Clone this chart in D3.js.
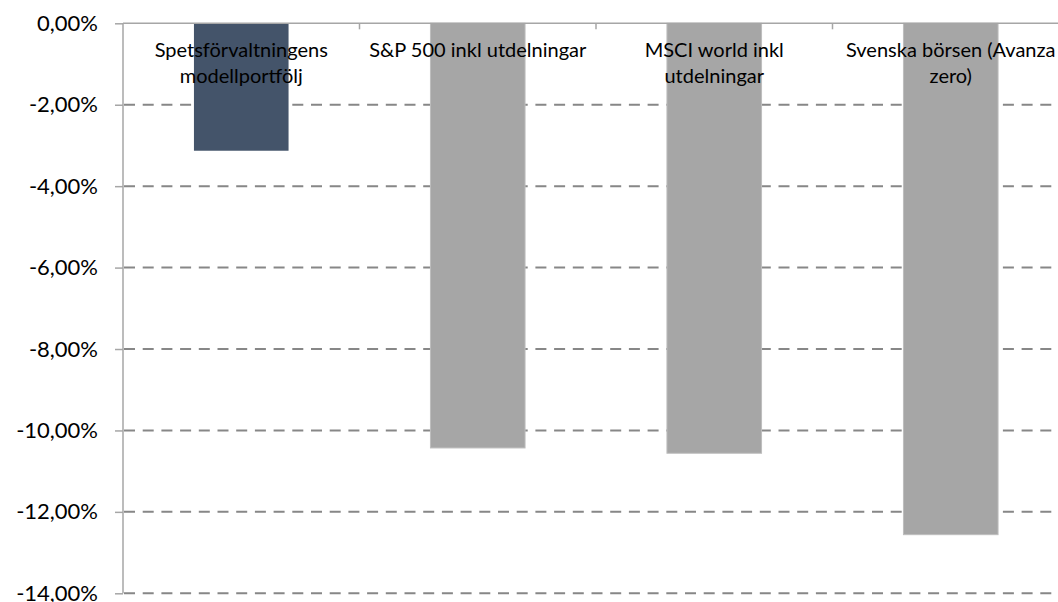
<!DOCTYPE html>
<html>
<head>
<meta charset="utf-8">
<script src="https://cdn.jsdelivr.net/npm/d3@7"></script>
<style>
  body { margin: 0; background: #fff; }
  svg { font-family: Lato, "Liberation Sans", sans-serif; }
</style>
</head>
<body>
<svg></svg>
<script>
// data
let categories = [
  ["Spetsförvaltningens", "modellportfölj"],
  ["S&P 500 inkl utdelningar"],
  ["MSCI world inkl", "utdelningar"],
  ["Svenska börsen (Avanza", "zero)"],
];
let values = [-0.0313, -0.1043, -0.1056, -0.1256];
let barColors = ["#44546a", "#a6a6a6", "#a6a6a6", "#a6a6a6"];
let yTicks = [0, -0.02, -0.04, -0.06, -0.08, -0.1, -0.12, -0.14];

let width = 1058;
let height = 602;
let margin = { top: 23.3, left: 123, bottom: 602 - 593.3 };
let plotRight = 1069; // plot runs past the right edge

let svg = d3.select("svg").attr("width", width).attr("height", height);

let x = d3
  .scaleBand()
  .domain(d3.range(categories.length))
  .range([margin.left, plotRight])
  .paddingInner(0.6)
  .paddingOuter(0.3);

let xEdges = d3
  .scaleLinear()
  .domain([0, categories.length])
  .range([margin.left, plotRight]);

let y = d3
  .scaleLinear()
  .domain([-0.14, 0])
  .range([height - margin.bottom, margin.top]);

let fmt = (v) => (v * 100).toFixed(2).replace(".", ",") + "%";

// dashed gridlines
svg
  .append("g")
  .selectAll("line")
  .data(yTicks.filter((d) => d != 0))
  .join("line")
  .attr("x1", margin.left)
  .attr("x2", plotRight)
  .attr("y1", (d) => y(d))
  .attr("y2", (d) => y(d))
  .style("stroke", "#878787")
  .style("stroke-width", 2)
  .style("stroke-dasharray", "11,7.7")
  .style("stroke-dashoffset", -1);

// bars
svg
  .append("g")
  .selectAll("rect")
  .data(values)
  .join("rect")
  .attr("x", (d, i) => x(i))
  .attr("width", x.bandwidth())
  .attr("y", y(0))
  .attr("height", (d) => y(d) - y(0))
  .style("fill", (d, i) => barColors[i])
  .style("stroke", (d, i) => (i == 0 ? "none" : "#bdbdbd"))
  .style("stroke-width", 1);

// y axis
let yAxis = d3
  .axisLeft(y)
  .tickValues(yTicks)
  .tickFormat(fmt)
  .tickSize(8)
  .tickPadding(17);

let gy = svg
  .append("g")
  .attr("transform", `translate(${margin.left},0)`)
  .call(yAxis);
gy.select(".domain").remove();
gy.selectAll(".tick line").style("stroke", "#a6a6a6").style("stroke-width", 1.5);
gy.selectAll(".tick text")
  .style("font-family", "Lato, sans-serif")
  .style("font-size", "22px")
  .style("fill", "#000");

svg
  .append("line")
  .attr("x1", margin.left)
  .attr("x2", margin.left)
  .attr("y1", y(0))
  .attr("y2", y(-0.14))
  .style("stroke", "#a6a6a6")
  .style("stroke-width", 1.5);

// top (zero) axis with small ticks between categories
let gx = svg.append("g");
gx.append("line")
  .attr("x1", margin.left)
  .attr("x2", plotRight)
  .attr("y1", y(0))
  .attr("y2", y(0))
  .style("stroke", "#a6a6a6")
  .style("stroke-width", 1.5);
gx.selectAll(".xtick")
  .data(d3.range(1, categories.length + 1))
  .join("line")
  .attr("class", "xtick")
  .attr("x1", (d) => xEdges(d))
  .attr("x2", (d) => xEdges(d))
  .attr("y1", y(0))
  .attr("y2", y(0) + 6)
  .style("stroke", "#a6a6a6")
  .style("stroke-width", 1.5);

// category labels
let labels = svg
  .append("g")
  .selectAll("text")
  .data(categories)
  .join("text")
  .attr("x", (d, i) => x(i) + x.bandwidth() / 2)
  .attr("y", 57.3)
  .attr("text-anchor", "middle")
  .style("font-size", "20px")
  .style("fill", "#000");

labels
  .selectAll("tspan")
  .data((d) => d)
  .join("tspan")
  .attr("x", function () {
    return this.parentNode.getAttribute("x");
  })
  .attr("dy", (d, i) => (i == 0 ? 0 : 26))
  .text((d) => d);
</script>
</body>
</html>
